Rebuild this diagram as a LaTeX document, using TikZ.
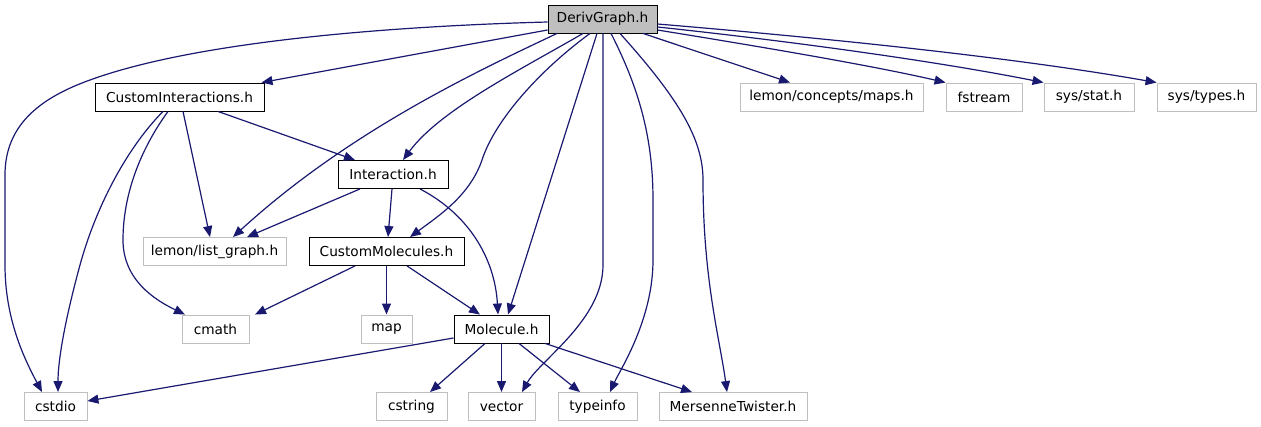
\documentclass[tikz,border=0pt]{standalone}
\usepackage{fontspec}
\setmainfont{DejaVu Sans}
\usetikzlibrary{arrows.meta}
\definecolor{edgec}{HTML}{191970}
\definecolor{grayb}{HTML}{BFBFBF}
\definecolor{dgfill}{HTML}{BFBFBF}
\begin{document}
\begin{tikzpicture}[x=1pt,y=-1pt,
  box/.style={draw=black, line width=0.9pt, fill=white, inner sep=0pt, minimum height=28pt, font=\fontsize{13.7}{16}\selectfont},
  ext/.style={box, draw=grayb},
  edge/.style={draw=edgec, line width=1.2pt, -{Triangle[length=11pt,width=9pt]}}]
\useasboundingbox (0,0) rectangle (1261,427);
% row 0
\node[box, fill=dgfill, minimum width=109pt] (dg) at (602.5,19) {DerivGraph.h};
% row 1
\node[box, minimum width=169pt] (ci) at (179.5,97) {CustomInteractions.h};
\node[ext, minimum width=183pt] (maps) at (831.5,97) {lemon/concepts/maps.h};
\node[ext, minimum width=76pt] (fs) at (984,97) {fstream};
\node[ext, minimum width=90pt] (stat) at (1089,97) {sys/stat.h};
\node[ext, minimum width=99pt] (types) at (1206.5,97) {sys/types.h};
% row 2
\node[box, minimum width=110pt] (inter) at (393,174.5) {Interaction.h};
% row 3
\node[ext, minimum width=143pt] (lg) at (214.5,251.5) {lemon/list\_graph.h};
\node[box, minimum width=155pt] (cm) at (386.5,251.5) {CustomMolecules.h};
% row 4
\node[ext, minimum width=67pt] (cmath) at (215.5,329) {cmath};
\node[ext, minimum width=51pt] (map) at (386.5,329) {map};
\node[box, minimum width=95pt] (mol) at (501.5,329) {Molecule.h};
% row 5
\node[ext, minimum width=63pt] (cstdio) at (55.5,406.5) {cstdio};
\node[ext, minimum width=71pt] (cstring) at (411.5,406.5) {cstring};
\node[ext, minimum width=67pt] (vector) at (501.5,406.5) {vector};
\node[ext, minimum width=79pt] (typeinfo) at (597.5,406.5) {typeinfo};
\node[ext, minimum width=148pt] (mt) at (733,406.5) {MersenneTwister.h};

% edges from DerivGraph.h
\draw[edge] ([yshift=-3pt]dg.west) .. controls (400,26) and (200,40) .. (90,80)
  .. controls (40,98) and (5,125) .. (5,175) -- (5,265)
  .. controls (5,320) and (25,360) .. ([xshift=-13.5pt]cstdio.north);
\draw[edge] ([yshift=-11pt]dg.west) -- ([xshift=82pt]ci.north);
\draw[edge] ([xshift=-45.5pt]dg.south) .. controls (480,70) and (350,130) .. ([xshift=18.5pt]lg.north);
\draw[edge] ([xshift=-19.5pt]dg.south) .. controls (520,70) and (440,110) .. ([xshift=10pt]inter.north);
\draw[edge] ([xshift=-12.5pt]dg.south) .. controls (540,70) and (495,120) .. (482,160)
  .. controls (470,195) and (440,215) .. ([xshift=23.5pt]cm.north);
\draw[edge] ([xshift=-5.5pt]dg.south) -- ([xshift=6.5pt]mol.north);
\draw[edge] ([xshift=0.5pt]dg.south) -- (603,265)
  .. controls (603,320) and (540,360) .. ([xshift=20.5pt]vector.north);
\draw[edge] ([xshift=8.5pt]dg.south) .. controls (640,90) and (653,140) .. (653,200) -- (653,260)
  .. controls (653,320) and (620,370) .. ([xshift=12.5pt]typeinfo.north);
\draw[edge] ([xshift=17.5pt]dg.south) .. controls (680,100) and (703,140) .. (703,180)
  .. controls (703,280) and (720,340) .. ([xshift=-6pt]mt.north);
\draw[edge] ([xshift=40.5pt]dg.south) -- ([xshift=-41.5pt]maps.north);
\draw[edge] ([yshift=-11pt]dg.east) .. controls (750,45) and (870,65) .. (fs.north west);
\draw[edge] ([yshift=-8pt]dg.east) .. controls (780,40) and (930,60) .. (stat.north west);
\draw[edge] ([yshift=-5pt]dg.east) .. controls (800,36) and (1000,55) .. (types.north west);

% edges from CustomInteractions.h
\draw[edge] ([xshift=38.5pt]ci.south) -- ([xshift=-38pt]inter.north);
\draw[edge] ([xshift=3.5pt]ci.south) -- ([xshift=-4.5pt]lg.north);
\draw[edge] ([xshift=-11.5pt]ci.south) .. controls (140,150) and (123,195) .. (123,240)
  .. controls (123,280) and (155,300) .. ([xshift=-30.5pt]cmath.north);
\draw[edge] ([xshift=-16.5pt]ci.south) .. controls (125,150) and (95,210) .. (80,265)
  .. controls (65,320) and (58,360) .. ([xshift=2.5pt]cstdio.north);

% edges from Interaction.h
\draw[edge] ([xshift=-33pt]inter.south) -- ([xshift=32.5pt]lg.north);
\draw[edge] ([xshift=-1pt]inter.south) -- ([xshift=1.5pt]cm.north);
\draw[edge] ([xshift=27pt]inter.south) .. controls (470,215) and (495,260) .. ([xshift=-3.5pt]mol.north);

% edges from CustomMolecules.h
\draw[edge] ([xshift=-31.5pt]cm.south) -- ([xshift=39.5pt]cmath.north);
\draw[edge] (cm.south) -- (map.north);
\draw[edge] ([xshift=20.5pt]cm.south) -- ([xshift=-21.5pt]mol.north);

% edges from Molecule.h
\draw[edge] ([yshift=-9pt]mol.west) -- ([yshift=5.5pt]cstdio.east);
\draw[edge] ([xshift=-16.5pt]mol.south) -- ([xshift=18.5pt]cstring.north);
\draw[edge] (mol.south) -- (vector.north);
\draw[edge] ([xshift=17.5pt]mol.south) -- ([xshift=-17.5pt]typeinfo.north);
\draw[edge] ([xshift=43.5pt]mol.south) -- ([xshift=-41pt]mt.north);
\end{tikzpicture}
\end{document}
